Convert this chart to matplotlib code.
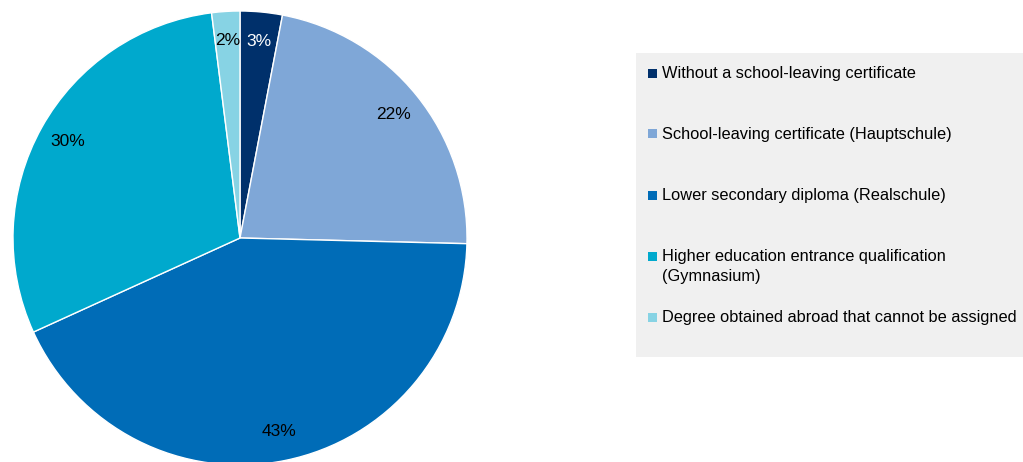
import matplotlib.pyplot as plt
from matplotlib.patches import Rectangle

plt.rcParams['font.family'] = ['Liberation Sans', 'DejaVu Sans']

# data (shares in %, labels rounded)
categories = ['Without a school-leaving certificate',
              'School-leaving certificate (Hauptschule)',
              'Lower secondary diploma (Realschule)',
              'Higher education entrance qualification\n(Gymnasium)',
              'Degree obtained abroad that cannot be assigned']
shares = [3.0, 22.4, 42.8, 29.8, 2.0]
colors = ['#00306b', '#7fa7d7', '#006cb7', '#00a9cd', '#87d3e4']
label_colors = ['white', 'black', 'black', 'black', 'black']

W, H = 1023, 462
fig = plt.figure(figsize=(W / 100, H / 100), dpi=100)

# pie axes: centre ~ (240, 238) px, radius ~ 227 px
cx, cy, r = 240, 238, 227
ax = fig.add_axes([(cx - r) / W, (H - cy - r) / H, 2 * r / W, 2 * r / H])
wedges, texts, autotexts = ax.pie(
    shares, colors=colors, startangle=90, counterclock=False,
    autopct='%.0f%%', pctdistance=0.87,
    wedgeprops=dict(edgecolor='white', linewidth=1),
    textprops=dict(fontsize=12.5))
for t, c in zip(autotexts, label_colors):
    t.set_color(c)
ax.set_xlim(-1, 1)
ax.set_ylim(-1, 1)
ax.set_aspect('equal')
ax.axis('off')

# legend drawn by hand so the square sits on the first text line
fig.patches.append(Rectangle((636 / W, 1 - 357 / H), (W - 636) / W, 304 / H,
                             transform=fig.transFigure, facecolor='#f0f0f0',
                             edgecolor='none', zorder=0))
for i, (lab, col) in enumerate(zip(categories, colors)):
    y = 73 + 61 * i
    fig.patches.append(Rectangle((648 / W, 1 - (y + 4.5) / H), 9 / W, 9 / H,
                                 transform=fig.transFigure, facecolor=col,
                                 edgecolor='none', zorder=2))
    fig.text(662 / W, 1 - (y - 7) / H, lab, fontsize=11.8, va='top', ha='left',
             linespacing=1.45, color='black')

fig.savefig('out.png', dpi=100)
